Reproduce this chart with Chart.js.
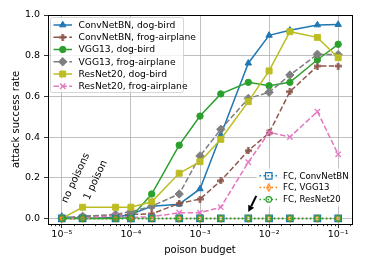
<!DOCTYPE html>
<html>
<head>
<meta charset="utf-8">
<script src="https://cdn.jsdelivr.net/npm/chart.js@4.4.1/dist/chart.umd.min.js"></script>
<style>
  html, body { margin: 0; padding: 0; background: #fff; }
  #wrap { width: 366px; height: 271px; }
</style>
</head>
<body>
<div id="wrap"><canvas id="chart" width="366" height="271"></canvas></div>
<script>
// poison budget (fraction of training set); first point = no poisons, second = 1 poison
const budgets = [1e-5, 2e-5, 6e-5, 1e-4, 2e-4, 5e-4, 1e-3, 2e-3, 5e-3, 1e-2, 2e-2, 5e-2, 1e-1];

const convnetDogBird    = [0.01, 0.0, 0.005, 0.02, 0.06, 0.07, 0.145, 0.41, 0.763, 0.90, 0.925, 0.951, 0.953];
const convnetFrogPlane  = [0.0, 0.01, 0.015, 0.02, 0.022, 0.074, 0.095, 0.185, 0.333, 0.42, 0.623, 0.749, 0.749];
const vggDogBird        = [0.0, 0.0, 0.0, 0.005, 0.12, 0.36, 0.503, 0.612, 0.669, 0.652, 0.669, 0.78, 0.856];
const vggFrogPlane      = [0.0, 0.01, 0.02, 0.033, 0.06, 0.12, 0.307, 0.438, 0.59, 0.62, 0.705, 0.807, 0.805];
const resnetDogBird     = [0.0, 0.055, 0.055, 0.055, 0.082, 0.222, 0.279, 0.389, 0.574, 0.725, 0.918, 0.89, 0.79];
const resnetFrogPlane   = [0.0, 0.0, 0.015, 0.005, 0.008, 0.028, 0.028, 0.055, 0.276, 0.423, 0.40, 0.525, 0.315];

// fully connected layer only
const fcConvNet = [0, 0, 0, 0, 0, 0, 0, 0, 0, 0, 0, 0, 0];
const fcVGG     = [0, 0, 0, 0, 0, 0, 0, 0, 0, 0, 0, 0, 0];
const fcResNet  = [0, 0, 0, 0, 0, 0, 0, 0, 0, 0, 0, 0, 0];

const yTicks = [0.0, 0.2, 0.4, 0.6, 0.8, 1.0];
const xTickValues = [1e-5, 1e-4, 1e-3, 1e-2, 1e-1];
const xTickLabels = ["10\u207B\u2075", "10\u207B\u2074", "10\u207B\u00B3", "10\u207B\u00B2", "10\u207B\u00B9"];

const FONT = "'DejaVu Sans', sans-serif";
Chart.defaults.font.family = FONT;
Chart.defaults.color = "#000";

const isPow10 = v => Math.abs(Math.log10(v) - Math.round(Math.log10(v))) < 1e-6;

function plusMarker(color, size) {
  const c = document.createElement("canvas");
  c.width = size; c.height = size;
  const g = c.getContext("2d");
  g.fillStyle = color;
  const t = size / 3;
  g.fillRect(t, 0, t, size);
  g.fillRect(0, t, size, t);
  return c;
}

function thinDiamond(color, w, h) {
  const c = document.createElement("canvas");
  c.width = w + 2; c.height = h + 2;
  const g = c.getContext("2d");
  g.strokeStyle = color;
  g.lineWidth = 1.2;
  g.beginPath();
  g.moveTo(c.width / 2, 1);
  g.lineTo(w + 1, c.height / 2);
  g.lineTo(c.width / 2, h + 1);
  g.lineTo(1, c.height / 2);
  g.closePath();
  g.stroke();
  return c;
}

function series(label, values, color, opts) {
  return Object.assign({
    label,
    data: budgets.map((x, i) => ({ x, y: values[i] })),
    borderColor: color,
    backgroundColor: color,
    pointBackgroundColor: color,
    pointBorderColor: color,
    borderWidth: 1.5,
    pointBorderWidth: 1,
    tension: 0,
    fill: false,
  }, opts);
}

const DASH = [5.5, 2.4];
const DOT = [1.5, 2.5];

const datasets = [
  series("ConvNetBN, dog-bird", convnetDogBird, "#1f77b4", { pointStyle: "triangle", pointRadius: 3.7 }),
  series("ConvNetBN, frog-airplane", convnetFrogPlane, "#8c564b", { pointStyle: plusMarker("#8c564b", 7), pointRadius: 3.5, borderDash: DASH }),
  series("VGG13, dog-bird", vggDogBird, "#2ca02c", { pointStyle: "circle", pointRadius: 3.2 }),
  series("VGG13, frog-airplane", vggFrogPlane, "#7f7f7f", { pointStyle: "rectRot", pointRadius: 4.2, borderDash: DASH }),
  series("ResNet20, dog-bird", resnetDogBird, "#bcbd22", { pointStyle: "rect", pointRadius: 4.2 }),
  series("ResNet20, frog-airplane", resnetFrogPlane, "#e377c2", { pointStyle: "crossRot", pointRadius: 3.8, pointBorderWidth: 1.3, borderDash: DASH }),
  series("FC, ConvNetBN", fcConvNet, "#1f77b4", { pointStyle: "rect", pointRadius: 4.6, pointBackgroundColor: "rgba(0,0,0,0)", pointBorderWidth: 1.2, borderDash: DOT }),
  series("FC, VGG13", fcVGG, "#ff7f0e", { pointStyle: thinDiamond("#ff7f0e", 4, 7), pointRadius: 4, pointBackgroundColor: "rgba(0,0,0,0)", borderDash: DOT }),
  series("FC, ResNet20", fcResNet, "#2ca02c", { pointStyle: "circle", pointRadius: 2.8, pointBackgroundColor: "rgba(0,0,0,0)", pointBorderWidth: 1.2, borderDash: DOT }),
];
datasets.forEach((d, i) => { d.order = 100 - i; });

function drawLegend(ctx, chart, items, box, rows, font, edge) {
  ctx.save();
  ctx.fillStyle = "rgba(255,255,255,0.8)";
  ctx.beginPath();
  ctx.roundRect(box.x, box.y, box.w, box.h, 2);
  ctx.fill();
  if (edge) {
    ctx.strokeStyle = "rgba(204,204,204,0.8)";
    ctx.lineWidth = 1;
    ctx.stroke();
  }
  items.forEach((idx, r) => {
    const d = chart.data.datasets[idx];
    const y = rows.y0 + r * rows.dy;
    ctx.save();
    ctx.strokeStyle = d.borderColor;
    ctx.lineWidth = d.borderWidth;
    ctx.setLineDash(d.borderDash || []);
    ctx.beginPath();
    ctx.moveTo(rows.x0, y);
    ctx.lineTo(rows.x1, y);
    ctx.stroke();
    ctx.setLineDash([]);
    ctx.fillStyle = d.pointBackgroundColor;
    ctx.strokeStyle = d.pointBorderColor;
    ctx.lineWidth = d.pointBorderWidth;
    Chart.helpers.drawPoint(ctx, { pointStyle: d.pointStyle, radius: d.pointRadius, borderWidth: d.pointBorderWidth, rotation: 0 }, (rows.x0 + rows.x1) / 2, y);
    ctx.restore();
    ctx.fillStyle = "#000";
    ctx.font = font;
    ctx.textBaseline = "middle";
    ctx.textAlign = "left";
    ctx.fillText(d.label, rows.tx, y + 0.5);
  });
  ctx.restore();
}

const decorations = {
  id: "decorations",
  afterDraw(chart) {
    const { ctx, chartArea: a } = chart;
    const xs = chart.scales.x, ys = chart.scales.y;
    ctx.save();

    // legends first so the frame stays on top
    drawLegend(ctx, chart, [0, 1, 2, 3, 4, 5],
      { x: 50.5, y: 17.5, w: 133, h: 75 },
      { y0: 25, dy: 12.25, x0: 53.5, x1: 72, tx: 78.5 }, "9.2px " + FONT, true);
    drawLegend(ctx, chart, [6, 7, 8],
      { x: 256.5, y: 168.5, w: a.right - 256.5, h: 38 },
      { y0: 175.8, dy: 11.8, x0: 259.5, x1: 278, tx: 283 }, "8.6px " + FONT, false);

    // minor ticks on the log axis
    ctx.strokeStyle = "#000";
    ctx.lineWidth = 0.8;
    xs.ticks.forEach(t => {
      if (isPow10(t.value) || t.value <= xs.min || t.value >= xs.max) return;
      const px = Math.round(xs.getPixelForValue(t.value)) + 0.5;
      ctx.beginPath();
      ctx.moveTo(px, a.bottom);
      ctx.lineTo(px, a.bottom + 2.2);
      ctx.stroke();
    });

    // frame on all four sides
    ctx.lineWidth = 1;
    ctx.strokeRect(a.left + 0.5, a.top + 0.5, a.right - a.left, a.bottom - a.top);

    // rotated notes
    ctx.fillStyle = "#000";
    ctx.font = "10px " + FONT;
    ctx.textBaseline = "alphabetic";
    const y0 = ys.getPixelForValue(0);
    const notes = [["no poisons", budgets[0], 5, -15], ["1 poison", budgets[1], 6.5, -18]];
    notes.forEach(([txt, bx, dx, dy]) => {
      ctx.save();
      ctx.translate(xs.getPixelForValue(bx) + dx, y0 + dy);
      ctx.rotate(-65 * Math.PI / 180);
      ctx.fillText(txt, 0, 0);
      ctx.restore();
    });

    // arrow pointing at the FC results
    const tipX = xs.getPixelForValue(5e-3), tipY = y0 - 6.4;
    const tailX = tipX + 8, tailY = y0 - 22.5;
    const ang = Math.atan2(tipY - tailY, tipX - tailX);
    const hl = 6.5, hw = 3.3;
    const bx = tipX - hl * Math.cos(ang), by = tipY - hl * Math.sin(ang);
    ctx.strokeStyle = "#000";
    ctx.lineWidth = 2;
    ctx.beginPath();
    ctx.moveTo(tailX, tailY);
    ctx.lineTo(bx, by);
    ctx.stroke();
    ctx.beginPath();
    ctx.moveTo(tipX, tipY);
    ctx.lineTo(bx + hw * Math.sin(ang), by - hw * Math.cos(ang));
    ctx.lineTo(bx - hw * Math.sin(ang), by + hw * Math.cos(ang));
    ctx.closePath();
    ctx.fill();

    ctx.restore();
  }
};

new Chart(document.getElementById("chart"), {
  type: "line",
  data: { datasets },
  plugins: [decorations],
  options: {
    responsive: false,
    animation: false,
    events: [],
    layout: { padding: { top: 15, right: 14, left: 0, bottom: 0 } },
    plugins: { legend: { display: false }, tooltip: { enabled: false } },
    scales: {
      x: {
        type: "logarithmic",
        min: Math.pow(10, -5.2),
        max: Math.pow(10, -0.8),
        afterFit: s => { s.height = 47; },
        border: { color: "#000", width: 1 },
        grid: {
          color: c => (c.tick && isPow10(c.tick.value) ? "#b0b0b0" : "rgba(0,0,0,0)"),
          tickColor: c => (c.tick && isPow10(c.tick.value) ? "#000" : "rgba(0,0,0,0)"),
          lineWidth: 0.8,
          tickLength: 4,
        },
        ticks: {
          autoSkip: false,
          maxRotation: 0,
          padding: 1,
          font: { size: 9.5 },
          callback: v => {
            const i = xTickValues.findIndex(t => Math.abs(Math.log10(v / t)) < 1e-6);
            return i >= 0 ? xTickLabels[i] : "";
          },
        },
        title: { display: true, text: "poison budget", font: { size: 10 }, padding: { top: 0, bottom: 14.5 } },
      },
      y: {
        min: -0.0275,
        max: 1.0,
        afterFit: s => { s.width = 48; },
        afterBuildTicks: s => { s.ticks = yTicks.map(v => ({ value: v })); },
        border: { color: "#000", width: 1 },
        grid: { color: "#b0b0b0", tickColor: "#000", lineWidth: 0.8, tickLength: 4 },
        ticks: { padding: 4, font: { size: 9.5 }, callback: v => v.toFixed(1) },
        title: { display: true, text: "attack success rate", font: { size: 10 }, padding: { top: 10, bottom: 0 } },
      },
    },
  },
});
</script>
</body>
</html>
